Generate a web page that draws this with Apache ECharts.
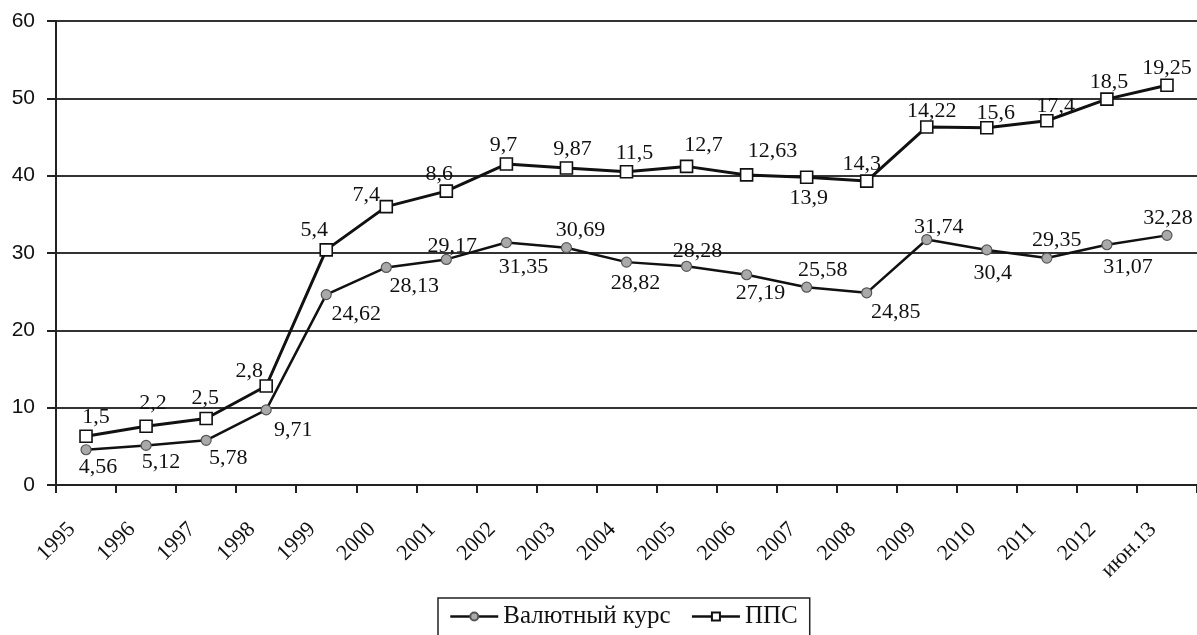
<!DOCTYPE html>
<html>
<head>
<meta charset="utf-8">
<script src="https://cdn.jsdelivr.net/npm/echarts@6/dist/echarts.min.js"></script>
<style>
html,body{margin:0;padding:0;background:#fff;}
#chart{width:1197px;height:635px;}
</style>
</head>
<body>
<div id="chart"></div>
<script>
// ---- data ----
var categories = ['1995','1996','1997','1998','1999','2000','2001','2002','2003','2004','2005','2006','2007','2008','2009','2010','2011','2012','июн.13'];
var kursValues = [4.56, 5.12, 5.78, 9.71, 24.62, 28.13, 29.17, 31.35, 30.69, 28.82, 28.28, 27.19, 25.58, 24.85, 31.74, 30.4, 29.35, 31.07, 32.28];
var ppsValues = [6.3, 7.6, 8.6, 12.8, 30.4, 36.0, 38.0, 41.5, 41.0, 40.5, 41.2, 40.1, 39.8, 39.3, 46.3, 46.2, 47.1, 49.9, 51.7];
var ppsLabels = ['1,5','2,2','2,5','2,8','5,4','7,4','8,6','9,7','9,87','11,5','12,7','12,63','13,9','14,3','14,22','15,6','17,4','18,5','19,25'];
var yTicks = [0, 10, 20, 30, 40, 50, 60];

// ---- label nudges (style only) ----
var kursLabelOffset = [[12,17],[15,17],[22,18],[27,20],[30,20],[28,19],[6,-13],[17,25],[14,-17],[9,21],[11,-15],[14,18],[16,-17],[29,19],[12,-12],[6,23],[10,-18],[21,22],[1,-17]];
var ppsLabelOffset = [[10,-19],[7,-23],[-1,-20],[-17,-15],[-12,-20],[-20,-11],[-7,-17],[-3,-19],[6,-19],[8,-19],[17,-21],[26,-24],[2,21],[-5,-17],[5,-16],[9,-15],[9,-15],[2,-17],[0,-17]];

var serif = '"Liberation Serif","DejaVu Serif",serif';

function fmt(v){ return String(v).replace('.', ','); }

var kursData = kursValues.map(function(v, i){
  return { value: v, label: { offset: kursLabelOffset[i] } };
});
var ppsData = ppsValues.map(function(v, i){
  return { value: v, label: { offset: ppsLabelOffset[i], formatter: ppsLabels[i] } };
});

var chart = echarts.init(document.getElementById('chart'), null, {renderer:'canvas'});
chart.setOption({
  animation: false,
  backgroundColor: '#fff',
  grid: { left: 56, right: 0, top: 21, bottom: 150, containLabel: false },
  legend: {
    left: 438, top: 598,
    padding: [6, 12, 12, 11],
    borderColor: '#222', borderWidth: 1.5,
    itemWidth: 48, itemHeight: 10, itemGap: 20,
    lineStyle: { width: 2.5, color: '#111' },
    textStyle: { fontFamily: serif, fontSize: 25, color: '#111' },
    data: ['Валютный курс', 'ППС']
  },
  xAxis: {
    type: 'category',
    data: categories,
    boundaryGap: true,
    axisLine: { lineStyle: { color: '#222', width: 2 } },
    axisTick: { show: true, length: 8, lineStyle: { color: '#222', width: 2 }, alignWithLabel: false },
    axisLabel: { rotate: 45, interval: 0, margin: 27, padding: [0, 20, 0, 0], fontFamily: serif, fontSize: 22, color: '#111' },
    splitLine: { show: false }
  },
  yAxis: {
    type: 'value',
    min: yTicks[0], max: yTicks[yTicks.length-1], interval: 10,
    axisLine: { show: true, lineStyle: { color: '#222', width: 2 } },
    axisTick: { show: true, length: 9, lineStyle: { color: '#222', width: 2 } },
    axisLabel: { margin: 21, fontFamily: '"Liberation Sans",Arial,sans-serif', fontSize: 21, color: '#111' },
    splitLine: { show: true, lineStyle: { color: '#333', width: 1.8 } }
  },
  series: [
    {
      name: 'Валютный курс',
      type: 'line',
      data: kursData,
      symbol: 'circle',
      symbolSize: 10,
      itemStyle: { color: '#a9a9a9', borderColor: '#555', borderWidth: 1.2 },
      lineStyle: { color: '#111', width: 2.5 },
      label: {
        show: true, position: 'inside', align: 'center', verticalAlign: 'middle',
        fontFamily: serif, fontSize: 22, color: '#111',
        formatter: function(p){ return fmt(p.value); }
      },
      z: 2
    },
    {
      name: 'ППС',
      type: 'line',
      data: ppsData,
      symbol: 'rect',
      symbolSize: 12,
      itemStyle: { color: '#fff', borderColor: '#111', borderWidth: 1.6 },
      lineStyle: { color: '#111', width: 3 },
      label: {
        show: true, position: 'inside', align: 'center', verticalAlign: 'middle',
        fontFamily: serif, fontSize: 22, color: '#111'
      },
      z: 3
    }
  ]
});
</script>
</body>
</html>
